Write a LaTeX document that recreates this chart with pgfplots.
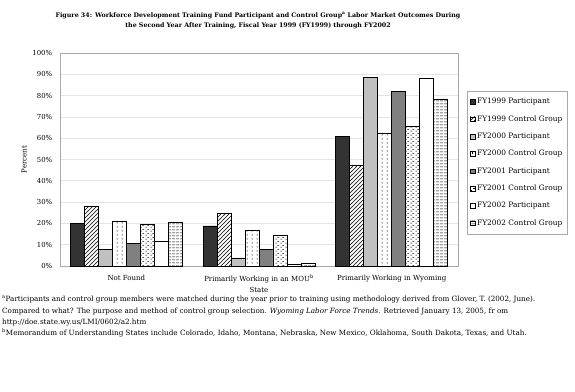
\documentclass[border=0pt]{standalone}
\usepackage{pgfplots}
\pgfplotsset{compat=1.18}
\usepackage{fontspec}
\setmainfont{DejaVu Serif}
\usetikzlibrary{patterns}

\pgfdeclarepatternformonly{myne}{\pgfqpoint{-1pt}{-1pt}}{\pgfqpoint{5pt}{5pt}}{\pgfqpoint{4pt}{4pt}}{%
  \pgfsetlinewidth{0.45pt}%
  \pgfpathmoveto{\pgfqpoint{-0.1pt}{-0.1pt}}%
  \pgfpathlineto{\pgfqpoint{4.1pt}{4.1pt}}%
  \pgfusepath{stroke}}
\pgfdeclarepatternformonly{vdash}{\pgfqpoint{0pt}{0pt}}{\pgfqpoint{5pt}{4pt}}{\pgfqpoint{5pt}{4pt}}{%
  \pgfsetlinewidth{0.6pt}%
  \pgfpathmoveto{\pgfqpoint{2.5pt}{0.5pt}}%
  \pgfpathlineto{\pgfqpoint{2.5pt}{2.7pt}}%
  \pgfusepath{stroke}}
\pgfdeclarepatternformonly{hdash}{\pgfqpoint{0pt}{0pt}}{\pgfqpoint{5pt}{4pt}}{\pgfqpoint{5pt}{4pt}}{%
  \pgfsetlinewidth{0.55pt}%
  \pgfpathmoveto{\pgfqpoint{0.3pt}{1pt}}%
  \pgfpathlineto{\pgfqpoint{2.4pt}{1pt}}%
  \pgfpathmoveto{\pgfqpoint{2.8pt}{3pt}}%
  \pgfpathlineto{\pgfqpoint{4.9pt}{3pt}}%
  \pgfusepath{stroke}}
\pgfdeclarepatternformonly{hlines}{\pgfqpoint{0pt}{0pt}}{\pgfqpoint{4pt}{2.6pt}}{\pgfqpoint{4pt}{2.6pt}}{%
  \pgfsetlinewidth{0.45pt}%
  \pgfpathmoveto{\pgfqpoint{0pt}{1.3pt}}%
  \pgfpathlineto{\pgfqpoint{4pt}{1.3pt}}%
  \pgfusepath{stroke}}

\definecolor{c1}{HTML}{333333}
\definecolor{c3}{HTML}{C0C0C0}
\definecolor{c5}{HTML}{808080}
\definecolor{gridc}{HTML}{E3E3E3}
\definecolor{framec}{HTML}{A8A8A8}

\begin{document}
\begin{tikzpicture}
\useasboundingbox (0pt,0pt) rectangle (575pt,391pt);
\node[align=center, font=\fontsize{6.3}{10.5}\selectfont\bfseries] at (258pt,370pt)
  {Figure 34: Workforce Development Training Fund Participant and Control Group\textsuperscript{a} Labor Market Outcomes During\\
   the Second Year After Training, Fiscal Year 1999 (FY1999) through FY2002};
\begin{axis}[
  at={(60pt,125pt)}, anchor=south west,
  scale only axis, width=398pt, height=213pt,
  ybar=0pt, bar width=0.1055,
  xmin=-0.5, xmax=2.5, ymin=0, ymax=100,
  xtick={0,1,2},
  xticklabels={Not Found, {Primarily Working in an MOU\textsuperscript{b}\\State}, Primarily Working in Wyoming},
  xticklabel style={align=center, font=\fontsize{7}{10.5}\selectfont, yshift=-1pt},
  major x tick style={draw=none},
  extra x ticks={0.5,1.5},
  extra x tick labels={},
  extra x tick style={major tick length=3pt, tick style={draw=framec}, tick pos=bottom},
  ytick={0,10,...,100},
  yticklabel={\pgfmathprintnumber{\tick}\%},
  yticklabel style={font=\fontsize{6.9}{8}\selectfont},
  /pgf/number format/assume math mode=true,
  ymajorgrids, grid style={gridc, line width=0.6pt},
  axis line style={framec, line width=0.6pt},
  tick style={framec},
  ytick style={draw=none},
  tick align=outside,
  ylabel={Percent},
  ylabel style={at={(axis description cs:-0.09,0.5)}, anchor=center, font=\fontsize{7}{8}\selectfont},
  legend style={at={(1,0.5)}, anchor=west, xshift=9pt, yshift=-3pt,
    draw=framec, font=\fontsize{7.4}{8}\selectfont, row sep=6.3pt,
    inner xsep=3pt, inner ysep=5pt, cells={anchor=west}},
  legend image code/.code={\draw[#1, line width=0.4pt] (0pt,-2.3pt) rectangle (4.6pt,2.3pt);},
  every axis plot/.append style={draw=black, line width=0.5pt},
]
\addplot[fill=c1] coordinates {(0,20) (1,18.8) (2,61)};
\addplot[fill=white, postaction={pattern=myne}] coordinates {(0,28) (1,24.6) (2,47.3)};
\addplot[fill=c3] coordinates {(0,7.7) (1,3.8) (2,88.4)};
\addplot[fill=white, postaction={pattern=vdash}] coordinates {(0,21.1) (1,16.6) (2,62.2)};
\addplot[fill=c5] coordinates {(0,10.5) (1,7.7) (2,81.9)};
\addplot[fill=white, postaction={pattern=hdash}] coordinates {(0,19.6) (1,14.6) (2,65.4)};
\addplot[fill=white] coordinates {(0,11.4) (1,0.6) (2,88)};
\addplot[fill=white, postaction={pattern=hlines}] coordinates {(0,20.4) (1,1.1) (2,78.4)};
\legend{FY1999 Participant, FY1999 Control Group, FY2000 Participant, FY2000 Control Group, FY2001 Participant, FY2001 Control Group, FY2002 Participant, FY2002 Control Group}
\end{axis}
\node[anchor=north west, align=left, inner sep=0pt, font=\fontsize{7.2}{11.2}\selectfont] at (2pt,95pt)
  {\textsuperscript{a}Participants and control group members were matched during the year prior to training using methodology derived from Glover, T. (2002, June).\\
   Compared to what? The purpose and method of control group selection. \textit{Wyoming Labor Force Trends}. Retrieved January 13, 2005, fr om\\
   http://doe.state.wy.us/LMI/0602/a2.htm\\
   \textsuperscript{b}Memorandum of Understanding States include Colorado, Idaho, Montana, Nebraska, New Mexico, Oklahoma, South Dakota, Texas, and Utah.};
\end{tikzpicture}
\end{document}
